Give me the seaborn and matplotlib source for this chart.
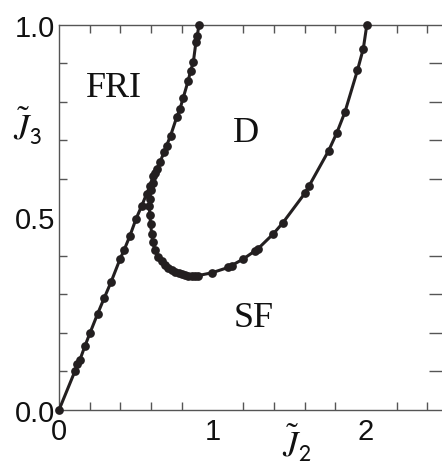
import numpy as np
import pandas as pd
import matplotlib
matplotlib.use("Agg")
import matplotlib.pyplot as plt
import seaborn as sns

# Boundary FRI / (D, SF): nearly straight line from origin
line_x = [0.0, 0.104, 0.12, 0.137, 0.169, 0.202, 0.252, 0.295, 0.339, 0.397, 0.423, 0.462,
          0.502, 0.539, 0.571, 0.593, 0.615, 0.636, 0.658, 0.684, 0.701, 0.727, 0.767,
          0.788, 0.810, 0.842, 0.858, 0.875, 0.892, 0.901, 0.912]
line_y = [0.0, 0.101, 0.119, 0.131, 0.166, 0.200, 0.250, 0.291, 0.332, 0.391, 0.414, 0.452,
          0.496, 0.530, 0.561, 0.582, 0.608, 0.625, 0.643, 0.669, 0.686, 0.712, 0.760,
          0.781, 0.811, 0.855, 0.881, 0.902, 0.954, 0.971, 1.0]

# Boundary D / SF: U-shaped curve
u_x = [0.625, 0.610, 0.598, 0.590, 0.588, 0.592, 0.597, 0.604, 0.612, 0.625, 0.645, 0.668,
       0.690, 0.712, 0.735, 0.756, 0.780, 0.800, 0.820, 0.842, 0.865, 0.886, 0.908, 0.995,
       1.103, 1.125, 1.201, 1.277, 1.298, 1.396, 1.457, 1.603, 1.630, 1.757, 1.811, 1.863,
       1.945, 1.983, 2.006]
u_y = [0.615, 0.590, 0.570, 0.548, 0.530, 0.505, 0.482, 0.457, 0.435, 0.415, 0.398, 0.386,
       0.377, 0.369, 0.363, 0.359, 0.355, 0.352, 0.350, 0.349, 0.348, 0.348, 0.349, 0.356,
       0.370, 0.375, 0.392, 0.413, 0.419, 0.457, 0.485, 0.563, 0.582, 0.673, 0.720, 0.773,
       0.882, 0.938, 1.0]

x_major = [0, 1, 2]
y_major = [0.0, 0.5, 1.0]
x_tick_labels = ["0", "1", "2"]
y_tick_labels = ["0.0", "0.5", "1.0"]

regions = ["FRI", "D", "SF"]
region_x = [0.36, 1.22, 1.27]
region_y = [0.838, 0.72, 0.24]

sns.set_style("ticks")
plt.rcParams['font.family'] = ['Liberation Sans', 'DejaVu Sans']
plt.rcParams['mathtext.fontset'] = 'stix'

fig = plt.figure(figsize=(4.42, 4.64), dpi=100)
ax = fig.add_axes([59 / 442, 1 - 411 / 464, 1 - 59 / 442 + 0.0015, (411 - 25.7) / 464])

col = "#231f20"
df1 = pd.DataFrame({"x": line_x, "y": line_y})
df2 = pd.DataFrame({"x": u_x, "y": u_y})
for df in (df1, df2):
    sns.lineplot(data=df, x="x", y="y", sort=False, estimator=None, ax=ax, color=col,
                 linewidth=2.2, marker="o", markersize=6.3, markeredgewidth=0,
                 markerfacecolor=col, clip_on=False, zorder=5)

ax.set_xlim(0, 2.5)
ax.set_ylim(0, 1.0)
ax.set_xlabel("")
ax.set_ylabel("")

ax.set_xticks(x_major)
ax.set_xticklabels(x_tick_labels)
ax.set_yticks(y_major)
ax.set_yticklabels(y_tick_labels)
ax.set_xticks(np.arange(0, 2.5, 0.2), minor=True)
ax.set_yticks(np.arange(0, 1.01, 0.1), minor=True)

spine_col = "#555555"
for s in ["left", "bottom", "top"]:
    ax.spines[s].set_visible(True)
    ax.spines[s].set_color(spine_col)
    ax.spines[s].set_linewidth(1.0)
ax.spines["right"].set_visible(False)

ax.tick_params(axis="both", which="both", direction="in", color=spine_col, width=1.0)
ax.tick_params(axis="x", which="both", top=True, bottom=True, length=0)
ax.tick_params(axis="x", which="minor", length=5.5)
ax.tick_params(axis="x", which="major", length=0, labelsize=21, pad=5, labelcolor="#111111")
ax.tick_params(axis="y", which="both", left=True, right=True, length=5.5)
ax.tick_params(axis="y", which="major", length=0, labelsize=21, pad=3, labelcolor="#111111")

# right ticks longer (partly cropped axis)
for t in ax.yaxis.get_minor_ticks():
    t.tick2line.set_markersize(10)

for name, rx, ry in zip(regions, region_x, region_y):
    ax.text(rx, ry, name, fontsize=26, family=["Liberation Serif", "DejaVu Serif"],
            ha="center", va="center", color="#111111")

fig.text(27 / 442, 1 - 127 / 464, r"$\tilde{J}_{\mathsf{3}}$", fontsize=25,
         ha="center", va="center", color="#111111")
fig.text(297 / 442, 1 - 444 / 464, r"$\tilde{J}_{\mathsf{2}}$", fontsize=25,
         ha="center", va="center", color="#111111")

fig.savefig("out.png", dpi=100)
